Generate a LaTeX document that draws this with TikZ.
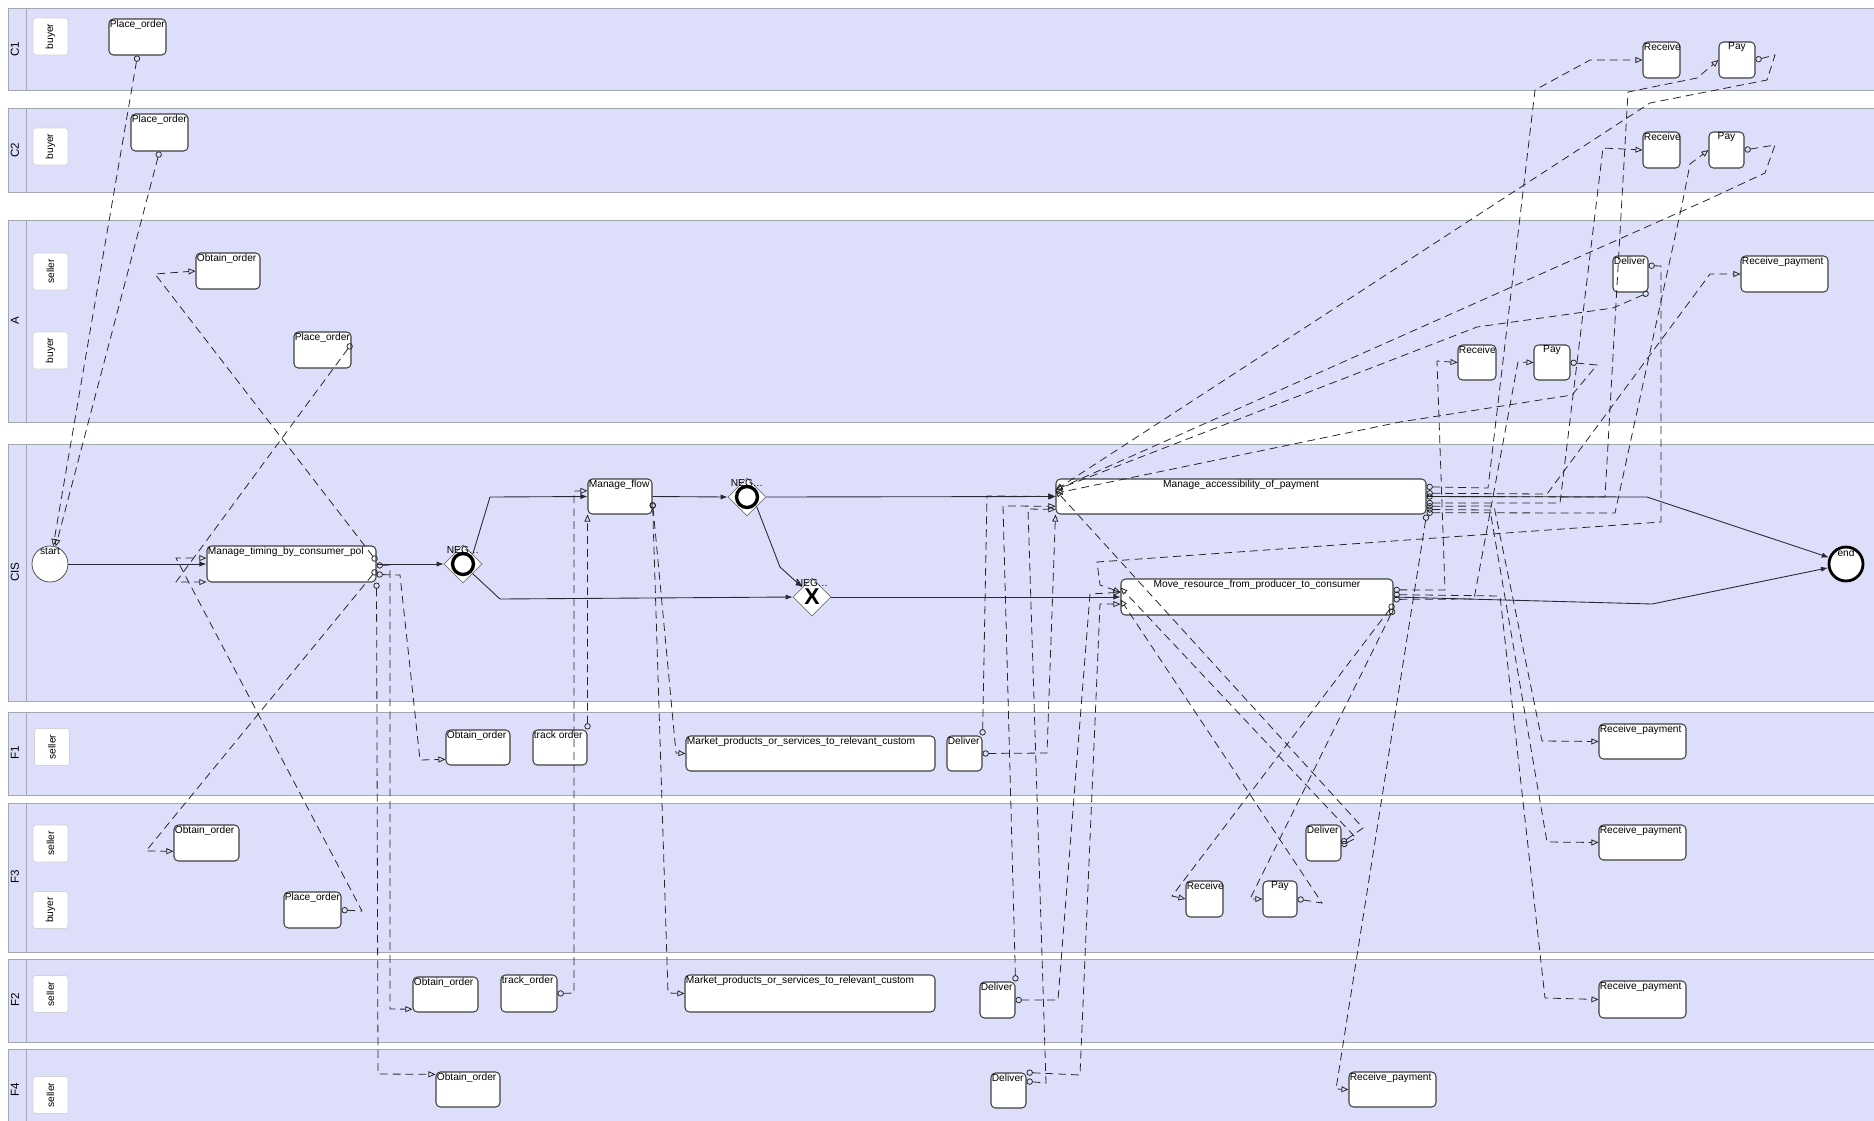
\documentclass[tikz,border=0pt]{standalone}
\usepackage{fontspec}
\setmainfont{Liberation Sans}
\usetikzlibrary{arrows.meta,shapes.geometric,fit}

\definecolor{lanebg}{RGB}{221,223,250}
\definecolor{lanebd}{RGB}{165,166,180}
\definecolor{flowcol}{RGB}{40,40,55}
\newcommand{\tsz}{\fontsize{5.8}{6.5}\selectfont}
\newcommand{\lsz}{\fontsize{6.6}{7}\selectfont}

\tikzset{
  lane/.style={fill=lanebg, draw=lanebd, line width=0.4pt},
  role/.style={rounded corners=1.5pt, fill=white, draw=lanebd!50, minimum width=0.7cm, minimum height=0.74cm, inner sep=0pt, font=\tsz},
  task/.style={rounded corners=2.5pt, fill=white, draw=black!75, line width=0.6pt, inner sep=0pt},
  tlbl/.style={anchor=north west, inner sep=0.6pt, font=\tsz},
  tlblc/.style={anchor=north, inner sep=0.6pt, font=\tsz},
  gate/.style={diamond, draw=black!55, fill=white, minimum size=0.76cm, inner sep=0pt},
  flow/.style={draw=flowcol, line width=0.5pt, -{Latex[length=4pt,width=3pt]}},
  msg/.style={draw=black!85, line width=0.45pt, dash pattern=on 4.5pt off 2.8pt,
    {Circle[open,length=3.6pt,width=3.6pt]}-{Triangle[open,length=4pt,width=3.4pt]}}
}

\begin{document}
\begin{tikzpicture}[x=0.02cm, y=-0.02cm]
  \useasboundingbox (0,0) rectangle (1874,1120);

  % pools
  \foreach \ytop/\ybot in {8/90, 108/192, 220/422, 444/701, 712/795, 803/952, 959/1042, 1049/1122} {
    \draw[lane] (8,\ytop) rectangle (1876,\ybot);
    \draw[lanebd] (26,\ytop) -- (26,\ybot);
  }
  \node[rotate=90, font=\lsz] (lc1) at (15,49) {C1};
  \node[rotate=90, font=\lsz] (lc2) at (15,150) {C2};
  \node[rotate=90, font=\lsz] (la) at (15,321) {A};
  \node[rotate=90, font=\lsz] (lcis) at (15,572) {CIS};
  \node[rotate=90, font=\lsz] (lf1) at (15,753) {F1};
  \node[rotate=90, font=\lsz] (lf3) at (15,877) {F3};
  \node[rotate=90, font=\lsz] (lf2) at (15,1000) {F2};
  \node[rotate=90, font=\lsz] (lf4) at (15,1090) {F4};

  % roles
  \node[role] (c1buy) at (50.5,36.5) {\rotatebox{90}{buyer}};
  \node[role] (c2buy) at (50.5,146.5) {\rotatebox{90}{buyer}};
  \node[role] (asel) at (50.5,271.5) {\rotatebox{90}{seller}};
  \node[role] (abuy) at (50.5,350.5) {\rotatebox{90}{buyer}};
  \node[role] (f1sel) at (52,747) {\rotatebox{90}{seller}};
  \node[role] (f3sel) at (50.5,843.5) {\rotatebox{90}{seller}};
  \node[role] (f3buy) at (50.5,910) {\rotatebox{90}{buyer}};
  \node[role] (f2sel) at (50.5,994) {\rotatebox{90}{seller}};
  \node[role] (f4sel) at (50.5,1095) {\rotatebox{90}{seller}};

  % C1, C2, A
  \node[task, fit={(109,19) (166,55)}, label={[tlbl]north west:Place\_order}] (c1po) {};
  \node[task, fit={(1643,42) (1680,78)}, label={[tlbl]north west:Receive}] (c1rc) {};
  \node[task, fit={(1719,42) (1755,78)}, label={[tlblc]north:Pay}] (c1py) {};
  \node[task, fit={(131,114) (188,151)}, label={[tlbl]north west:Place\_order}] (c2po) {};
  \node[task, fit={(1643,132) (1680,168)}, label={[tlbl]north west:Receive}] (c2rc) {};
  \node[task, fit={(1709,132) (1744,168)}, label={[tlblc]north:Pay}] (c2py) {};
  \node[task, fit={(196,253) (260,289)}, label={[tlbl]north west:Obtain\_order}] (aoo) {};
  \node[task, fit={(294,332) (351,368)}, label={[tlbl]north west:Place\_order}] (apo) {};
  \node[task, fit={(1613,256) (1648,292)}, label={[tlbl]north west:Deliver}] (adl) {};
  \node[task, fit={(1741,256) (1828,292)}, label={[tlbl]north west:Receive\_payment}] (arp) {};
  \node[task, fit={(1458,345) (1496,380)}, label={[tlbl]north west:Receive}] (arc) {};
  \node[task, fit={(1534,345) (1570,380)}, label={[tlblc]north:Pay}] (apy) {};

  % CIS
  \node[circle, draw=black!75, fill=white, minimum size=0.72cm, inner sep=0pt,
    label={[font=\tsz, anchor=north, inner sep=0pt, yshift=-1pt]north:start}] (start) at (50,564) {};
  \node[task, fit={(207,546) (376,582)}, label={[tlbl]north west:Manage\_timing\_by\_consumer\_pol}] (mt) {};
  \node[task, fit={(588,479) (652,514)}, label={[tlbl]north west:Manage\_flow}] (mf) {};
  \node[task, fit={(1056,479) (1426,514)}, label={[tlblc]north:Manage\_accessibility\_of\_payment}] (ma) {};
  \node[task, fit={(1121,579) (1393,615)}, label={[tlblc]north:Move\_resource\_from\_producer\_to\_consumer}] (mr) {};
  \node[gate, label={[font=\tsz, anchor=north, inner sep=0pt, yshift=-1pt]north:NEG\ldots}] (gw1) at (463,564) {};
  \draw[line width=1.9pt, fill=white] (gw1.center) circle (0.21cm);
  \node[gate, label={[font=\tsz, anchor=north, inner sep=0pt, yshift=-1pt]north:NEG\ldots}] (gw2) at (747,497) {};
  \draw[line width=1.9pt, fill=white] (gw2.center) circle (0.21cm);
  \node[gate, font=\fontsize{13}{13}\bfseries, label={[font=\tsz, anchor=north, inner sep=0pt, yshift=-1pt]north:NEG\ldots}] (gw3) at (812,597) {X};
  \node[circle, draw=black, fill=white, line width=1.6pt, minimum size=0.68cm, inner sep=0pt,
    label={[font=\tsz, anchor=north, inner sep=0pt, yshift=-2pt]north:end}] (endev) at (1846,564) {};

  % F1
  \node[task, fit={(446,730) (510,765)}, label={[tlbl]north west:Obtain\_order}] (f1oo) {};
  \node[task, fit={(533,730) (587,765)}, label={[tlbl]north west:track order}] (f1to) {};
  \node[task, fit={(686,736) (935,771)}, label={[tlbl]north west:Market\_products\_or\_services\_to\_relevant\_custom}] (f1mk) {};
  \node[task, fit={(947,736) (982,771)}, label={[tlbl]north west:Deliver}] (f1dl) {};
  \node[task, fit={(1599,724) (1686,759)}, label={[tlbl]north west:Receive\_payment}] (f1rp) {};
  % F3
  \node[task, fit={(174,825) (239,861)}, label={[tlbl]north west:Obtain\_order}] (f3oo) {};
  \node[task, fit={(284,892) (341,928)}, label={[tlbl]north west:Place\_order}] (f3po) {};
  \node[task, fit={(1306,825) (1341,861)}, label={[tlbl]north west:Deliver}] (f3dl) {};
  \node[task, fit={(1186,881) (1223,917)}, label={[tlbl]north west:Receive}] (f3rc) {};
  \node[task, fit={(1263,881) (1297,917)}, label={[tlblc]north:Pay}] (f3py) {};
  \node[task, fit={(1599,825) (1686,860)}, label={[tlbl]north west:Receive\_payment}] (f3rp) {};
  % F2
  \node[task, fit={(413,977) (478,1012)}, label={[tlbl]north west:Obtain\_order}] (f2oo) {};
  \node[task, fit={(501,975) (557,1012)}, label={[tlbl]north west:track\_order}] (f2to) {};
  \node[task, fit={(685,975) (935,1012)}, label={[tlbl]north west:Market\_products\_or\_services\_to\_relevant\_custom}] (f2mk) {};
  \node[task, fit={(980,982) (1015,1018)}, label={[tlbl]north west:Deliver}] (f2dl) {};
  \node[task, fit={(1599,981) (1686,1018)}, label={[tlbl]north west:Receive\_payment}] (f2rp) {};
  % F4
  \node[task, fit={(436,1072) (500,1107)}, label={[tlbl]north west:Obtain\_order}] (f4oo) {};
  \node[task, fit={(991,1073) (1026,1108)}, label={[tlbl]north west:Deliver}] (f4dl) {};
  \node[task, fit={(1349,1072) (1436,1107)}, label={[tlbl]north west:Receive\_payment}] (f4rp) {};

  % sequence flows
  \draw[flow] (start.east) -- (mt.west);
  \draw[flow] (mt.east) -- (gw1.west);
  \draw[flow] (gw1.north east) -- (490,497) -- (mf.west);
  \draw[flow] (gw1.south east) -- (500,599) -- (gw3.west);
  \draw[flow] (mf.east) -- (gw2.west);
  \draw[flow] (gw2.east) -- (ma.west);
  \draw[flow] (gw2.south east) -- (780,567) -- (gw3.north west);
  \draw[flow] (gw3.east) -- (mr.west);
  \draw[flow] (ma.east) -- (1647,497) -- (endev.159);
  \draw[flow] (mr.east) -- (1652,604) -- (endev.192);

  % message flows, left part
  \draw[msg] (c1po.south) -- (start.80);
  \draw[msg] (c2po.south) -- (start.72);
  \draw[msg] (mt.2) -- (155,274) -- (aoo.west);
  \draw[msg] (mt.-4) -- (146,851) -- (f3oo.194);
  \draw[msg] (apo.12) -- (176,582) -- (mt.192);
  \draw[msg] (f3po.east) -- (362,911) -- (176,558) -- (mt.176);
  \draw[msg] (mt.-7) -- (400,575) -- (420,760) -- (f1oo.200);
  \draw[msg] (mt.-1) -- (390,565) -- (390,1009) -- (f2oo.204);
  \draw[msg] (mt.south east) -- (378,1074) -- (f4oo.155);
  \draw[msg] (f1to.north east) -- (mf.south west);
  \draw[msg] (f2to.east) -- (574,993) -- (574,491) -- (mf.170);
  \draw[msg] (mf.-10) -- (676,753) -- (f1mk.west);
  \draw[msg] (mf.-10) -- (668,993) -- (f2mk.west);

  % message flows, delivers
  \draw[msg] (f1dl.north east) -- (987,496) -- (ma.west);
  \draw[msg] (f1dl.east) -- (1047,753) -- (ma.south west);
  \draw[msg] (f2dl.north east) -- (1003,506) -- (ma.183);
  \draw[msg] (f2dl.east) -- (1058,1000) -- (1090,594) -- (mr.178);
  \draw[msg] (f4dl.north east) -- (1080,1075) -- (1100,604) -- (mr.183);
  \draw[msg] (f4dl.27) -- (1046,1083) -- (1028,509) -- (ma.184);

  % message flows, F3
  \draw[msg] (f3dl.east) -- (1363,828) -- (ma.178);
  \draw[msg] (f3dl.-8) -- (1356,838) -- (mr.176);
  \draw[msg] (f3py.east) -- (1322,903) -- (mr.181);
  \draw[msg] (mr.-3) -- (1172,896) -- (f3rc.west);
  \draw[msg] (mr.-5) -- (1250,899) -- (f3py.west);

  % message flows, right part
  \draw[msg] (ma.3) -- (1488,488) -- (1535,90) -- (1590,60) -- (c1rc.west);
  \draw[msg] (ma.east) -- (1605,497) -- (1628,92) -- (1697,78) -- (c1py.west);
  \draw[msg] (ma.-2) -- (1560,503) -- (1603,148) -- (c2rc.west);
  \draw[msg] (ma.-5) -- (1615,513) -- (1683,200) -- (1690,164) -- (c2py.west);
  \draw[msg] (ma.1) -- (1547,494) -- (1710,274) -- (arp.west);
  \draw[msg] (mr.3) -- (1445,590) -- (1437,361) -- (arc.west);
  \draw[msg] (mr.-1) -- (1474,599) -- (1518,362) -- (apy.west);
  \draw[msg] (ma.-3) -- (1494,506) -- (1542,741) -- (f1rp.west);
  \draw[msg] (ma.-4) -- (1490,510) -- (1547,842) -- (f3rp.west);
  \draw[msg] (mr.1) -- (1500,596) -- (1545,998) -- (f2rp.west);
  \draw[msg] (ma.south east) -- (1336,1089) -- (f4rp.west);

  % message flows back into CIS
  \draw[msg] (c1py.east) -- (1775,55) -- (1767,80) -- (1650,103) -- (ma.178);
  \draw[msg] (c2py.east) -- (1775,145) -- (1765,173) -- (1707,200) -- (ma.178);
  \draw[msg] (adl.south east) -- (1613,308) -- (1477,327) -- (ma.178);
  \draw[msg] (apy.east) -- (1597,365) -- (1572,395) -- (1400,422) -- (ma.179);
  \draw[msg] (adl.25) -- (1661,266) -- (1661,522) -- (1097,562) -- (1100,585) -- (mr.178);
\end{tikzpicture}
\end{document}
